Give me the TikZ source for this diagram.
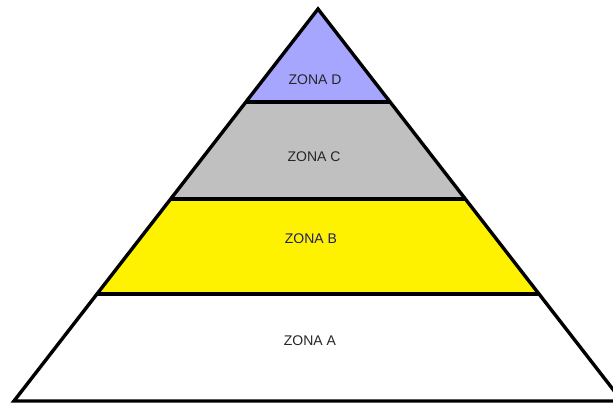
\documentclass[tikz,border=0pt]{standalone}
\usepackage{fontspec}
\setmainfont{Liberation Sans}
\definecolor{zoneD}{HTML}{A6A6FF}
\definecolor{zoneC}{HTML}{C0C0C0}
\definecolor{zoneB}{HTML}{FFF200}
\definecolor{txtgray}{HTML}{262626}
\definecolor{txtblue}{HTML}{1E1E66}
\tikzset{
  zonelabel/.style={font=\fontsize{14}{16}\selectfont, text=txtgray, inner sep=0pt},
  edge/.style={draw=black, line width=3.4pt, line join=miter},
}
\begin{document}
\begin{tikzpicture}[x=1pt,y=-1pt]
\useasboundingbox (0,0) rectangle (613,404);
\clip (0,0) rectangle (613,404);
\coordinate (apex) at (318,9);
\coordinate (dl) at (245.9,102); \coordinate (dr) at (390.1,102);
\coordinate (cl) at (170.7,199); \coordinate (cr) at (465.3,199);
\coordinate (bl) at (97.0,294);  \coordinate (br) at (539.0,294);
\coordinate (al) at (14,401);    \coordinate (ar) at (622,401);
\fill[white] (0,0) rectangle (613,404);
\fill[zoneD] (apex) -- (dr) -- (dl) -- cycle;
\fill[zoneC] (dl) -- (dr) -- (cr) -- (cl) -- cycle;
\fill[zoneB] (cl) -- (cr) -- (br) -- (bl) -- cycle;
\fill[white] (bl) -- (br) -- (ar) -- (al) -- cycle;
\draw[edge] (dl) -- (dr);
\draw[edge] (cl) -- (cr);
\draw[edge] (bl) -- (br);
\draw[edge] (apex) -- (ar) -- (al) -- cycle;
\node[zonelabel] (zd) at (315,80) {ZONA D};
\node[zonelabel] (zc) at (314,157) {ZONA C};
\node[zonelabel, text=txtblue] (zb) at (311,239) {ZONA B};
\node[zonelabel] (za) at (310,341) {ZONA A};
\end{tikzpicture}
\end{document}
